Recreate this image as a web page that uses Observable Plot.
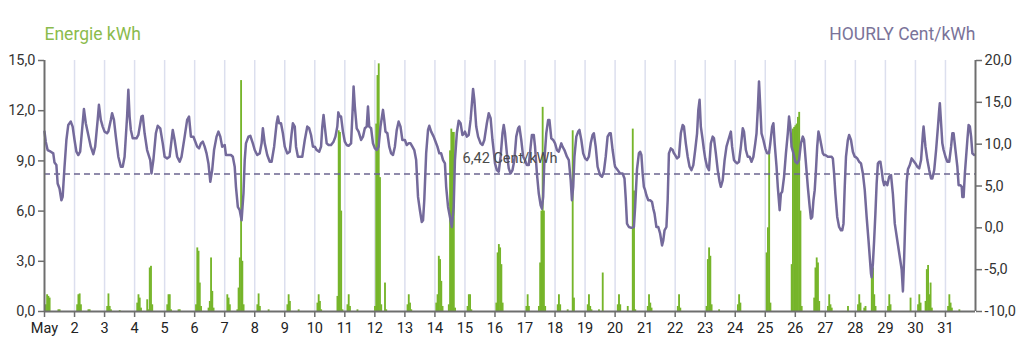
<!DOCTYPE html>
<html><head><meta charset="utf-8">
<script src="https://cdn.jsdelivr.net/npm/d3@7"></script>
<script src="https://cdn.jsdelivr.net/npm/@observablehq/plot@0.6"></script>
<style>body{margin:0;background:#fff;font-family:Roboto,sans-serif}</style>
</head><body><div id="chart"></div>
<script>
const dayLabels = ["May","2","3","4","5","6","7","8","9","10","11","12","13","14","15","16","17","18","19","20","21","22","23","24","25","26","27","28","29","30","31"];
const energyTicks = [0, 3, 6, 9, 12, 15];
const priceTicks = [-10, -5, 0, 5, 10, 15, 20];
const averagePrice = 6.42;
const energyTitle = "Energie kWh";
const priceTitle = "HOURLY Cent/kWh";

// [day, hour, Cent/kWh]
const pricePoints = [
[1,0,11.5],[1,1,10.3],[1,2.5,9.3],[1,5,9.1],[1,7,8.9],[1,8,7.8],[1,9.5,7.5],[1,10.5,5.3],[1,12,4.7],[1,13.5,3.3],[1,14.5,3.7],[1,16,7.3],[1,17.5,10.5],[1,19,12.3],[1,21,12.7],[1,22.5,12.1],
[2,0,10.5],[2,1.5,9.1],[2,3,8.7],[2,4.5,9.1],[2,6.5,12.5],[2,7.5,14.2],[2,9,12.5],[2,11,11.1],[2,13,9.7],[2,15,8.8],[2,16.5,9.7],[2,18.5,12.9],[2,19.5,14.7],[2,21,12.9],[2,22.5,12.1],
[3,0,11.5],[3,2,11.3],[3,3,11.5],[3,5,12.9],[3,6,13.7],[3,7.5,12.9],[3,9,10.9],[3,11,8.5],[3,13,7.3],[3,14.5,7.3],[3,16,8.5],[3,18,13.3],[3,19,16.5],[3,20,13.3],[3,21,11.7],[3,22.5,10.7],
[4,0,10.7],[4,1.5,10.7],[4,3,11.1],[4,5.5,13.3],[4,6.5,13.4],[4,8,11.3],[4,10,9.3],[4,12.5,8.1],[4,13.5,6.5],[4,15,8.1],[4,17,11.3],[4,18.5,12.2],[4,20.5,11.9],[4,22.5,10.1],
[5,0,8.5],[5,2,8.3],[5,4,8.5],[5,6.5,11.7],[5,8,10.5],[5,10,8.5],[5,12,7.9],[5,13.5,8.5],[5,16,10.9],[5,18,12.9],[5,19.5,13.3],[5,21,10.9],[5,23,10.9],
[6,0,10.5],[6,2,9.7],[6,3.5,9.5],[6,5,10.1],[6,6.5,10.3],[6,8,9.7],[6,9.5,8.9],[6,11,7.7],[6,12.5,5.5],[6,14,6.9],[6,15.5,9.3],[6,17.5,10.9],[6,19,11.5],[6,20.5,10.9],[6,22,9.7],
[7,0,9.9],[7,1,8.7],[7,3,8.7],[7,5,8.7],[7,6.5,8.5],[7,8,7.3],[7,9,4.9],[7,10.5,2.5],[7,12,2.1],[7,13.5,0.9],[7,15,4.1],[7,16,8.1],[7,17,10.1],[7,19,10.9],[7,20.5,11.0],[7,22.5,10.1],
[8,0,9.3],[8,2,8.7],[8,4,8.9],[8,5.5,10.1],[8,6.5,11.9],[8,8,10.1],[8,10,8.7],[8,12,7.9],[8,13.5,7.9],[8,15.5,9.7],[8,17.5,12.5],[8,18.5,13.3],[8,19.5,12.5],[8,21,12.5],[8,22.5,11.3],
[9,0,9.7],[9,2,8.9],[9,4,9.1],[9,5.5,11.3],[9,6.5,12.5],[9,8,12.1],[9,9,9.7],[9,10.5,8.5],[9,12.5,8.5],[9,14,8.5],[9,16,10.5],[9,18,12.1],[9,19.5,11.9],[9,21,11.1],[9,22.5,9.7],
[10,0,9.7],[10,1.5,9.3],[10,3.5,9.1],[10,5,9.7],[10,6,12.1],[10,7,13.5],[10,8,12.1],[10,9.5,10.1],[10,11,9.9],[10,13,9.9],[10,15,10.3],[10,16.5,10.9],[10,18,12.1],[10,18.8,13.8],[10,20,13.3],[10,21,13.3],[10,22.5,11.5],
[11,0,10.3],[11,1.5,9.9],[11,3,9.8],[11,5,10.1],[11,6.5,14.9],[11,7,16.9],[11,8,14.5],[11,9.5,11.9],[11,11,11.5],[11,13,10.5],[11,14.5,10.9],[11,16,11.9],[11,17.5,12.1],[11,18.5,14.5],[11,19.5,12.1],[11,21,11.9],[11,22.5,10.1],
[12,0,9.5],[12,1.5,9.3],[12,3,9.7],[12,4.5,12.1],[12,5.5,13.1],[12,6.5,14.1],[12,7.5,12.9],[12,8.5,11.5],[12,10,11.3],[12,11.5,9.7],[12,13,8.9],[12,14.5,8.7],[12,16,9.7],[12,17.5,11.7],[12,19,12.7],[12,20.5,12.1],[12,22,10.5],
[13,0,10.5],[13,1.5,9.9],[13,3,10.1],[13,4.5,10.1],[13,6,9.7],[13,7.5,9.3],[13,9,8.1],[13,10.5,3.7],[13,12,2.1],[13,13.5,0.7],[13,14.5,0.9],[13,15.5,3.3],[13,17,8.9],[13,18.5,11.7],[13,19.5,12.2],[13,21,11.5],[13,23,10.9],
[14,0,10.5],[14,2,9.7],[14,3.5,8.9],[14,5,8.9],[14,6.5,8.1],[14,8,7.7],[14,9,4.9],[14,10.5,2.5],[14,12.5,0.9],[14,13.5,0.1],[14,15,2.5],[14,16,8.1],[14,17.5,11.3],[14,19,12.8],[14,20.5,12.5],[14,22,11.1],[14,23.5,11.3],
[15,0,11.5],[15,1.5,10.9],[15,3,11.1],[15,4.5,12.9],[15,6,15.7],[15,6.5,16.6],[15,7.5,15.3],[15,9,12.1],[15,10.5,10.9],[15,12.5,10.1],[15,14,9.9],[15,15.5,10.5],[15,17.5,12.5],[15,19,13.7],[15,20.5,13.1],[15,22,10.5],[15,23.5,8.5],
[16,0,7.7],[16,1.5,6.9],[16,3,6.7],[16,4.5,8.5],[16,6,11.3],[16,7,12.3],[16,8,11.3],[16,9.5,8.9],[16,11,7.1],[16,12.5,6.5],[16,14,6.9],[16,15.5,8.1],[16,17,10.9],[16,18.5,11.9],[16,19.5,12.1],[16,21,10.5],[16,22.5,8.5],
[17,0,8.1],[17,1.5,7.5],[17,3,7.5],[17,4.5,9.7],[17,5.5,11.1],[17,7,11.1],[17,8,9.7],[17,9.5,6.5],[17,11,4.1],[17,12.5,2.7],[17,13.5,2.3],[17,14.5,3.7],[17,15.5,8.1],[17,17,11.3],[17,18.5,12.9],[17,19.5,12.9],[17,21,10.7],[17,22.5,10.5],
[18,0,10.1],[18,1.5,9.3],[18,3,9.1],[18,5,10.1],[18,6,9.7],[18,7.5,9.3],[18,9.5,8.5],[18,11,8.1],[18,12.5,5.7],[18,13.5,3.3],[18,14.5,4.9],[18,15.5,8.5],[18,17,10.9],[18,18.5,11.5],[18,19.5,11.7],[18,21,10.5],[18,22.5,8.9],
[19,0,8.3],[19,1.5,8.1],[19,3,8.5],[19,4.5,10.1],[19,6,11.1],[19,7,11.3],[19,8.5,9.7],[19,10,7.3],[19,12,6.3],[19,13.5,6.1],[19,15,6.7],[19,16.5,8.5],[19,18,10.9],[19,19.5,11.3],[19,20.5,11.3],[19,22,9.3],[19,23.5,7.7],
[20,0,7.3],[20,2,6.9],[20,4,6.5],[20,6,6.5],[20,7.5,5.9],[20,8.5,3.5],[20,9.5,0.5],[20,11,0.1],[20,13,0.0],[20,15,0.1],[20,16,2.5],[20,17.5,7.0],[20,19,8.9],[20,20,9.1],[20,21,8.7],[20,22,6.5],[20,23,4.9],
[21,0,4.5],[21,1,3.9],[21,2.5,3.3],[21,4,3.3],[21,5.5,3.1],[21,6.5,2.3],[21,7.5,1.7],[21,9,0.1],[21,10.5,0.1],[21,12,-0.7],[21,13.5,-2.1],[21,14.5,-1.5],[21,15.5,-0.3],[21,17,0.1],[21,18,3.3],[21,19,8.9],[21,20.5,9.5],[21,22,9.3],[21,23,8.9],
[22,0,8.7],[22,1.5,8.3],[22,3,8.5],[22,4.5,11.3],[22,6,12.3],[22,7,12.1],[22,8.5,10.1],[22,10,8.5],[22,11.5,7.3],[22,13,6.9],[22,14.5,7.5],[22,16,9.3],[22,17.5,11.3],[22,18.5,14.1],[22,19.5,15.3],[22,20.5,12.1],[22,22,10.5],[22,23,9.3],
[23,0,8.3],[23,1.5,7.3],[23,3,6.9],[23,4.5,10.1],[23,6,10.9],[23,7,10.7],[23,8.5,8.9],[23,10,6.9],[23,11.5,5.5],[23,12.5,4.9],[23,14,5.7],[23,15.5,8.1],[23,17,9.7],[23,18.5,10.5],[23,20.5,11.5],[23,21.5,9.7],[23,23,8.1],
[24,0,7.9],[24,1.5,7.7],[24,3,7.9],[24,4.5,9.7],[24,6,11.9],[24,7,11.5],[24,8.5,9.3],[24,10,8.5],[24,11.5,8.5],[24,13,7.9],[24,14.5,8.5],[24,16,10.1],[24,17,11.3],[24,18,14.1],[24,19,17.5],[24,20,14.5],[24,21,11.3],[24,22.5,10.5],
[25,0,9.5],[25,1.5,8.9],[25,3,8.9],[25,4,10.1],[25,5.5,12.1],[25,6.5,12.5],[25,7.5,10.1],[25,9,7.3],[25,10,4.9],[25,11.5,2.1],[25,12.5,4.1],[25,13.5,4.3],[25,15,6.1],[25,16.5,8.9],[25,18,11.3],[25,19,13.3],[25,20,12.1],[25,21,9.7],[25,22.5,8.9],
[26,0,7.9],[26,1.5,7.7],[26,3,8.1],[26,4.5,10.1],[26,6,10.9],[26,7,10.5],[26,8.5,7.7],[26,10,4.9],[26,11.5,2.5],[26,12.5,1.1],[26,13.5,1.3],[26,14.5,3.3],[26,15.5,4.5],[26,16.5,6.9],[26,17.5,9.7],[26,18.5,11.5],[26,19.5,10.9],[26,20.5,10.1],[26,22,8.9],[26,23,8.7],
[27,0,8.7],[27,2,8.5],[27,3.5,8.5],[27,5,8.5],[27,6,8.3],[27,7,6.5],[27,8,4.1],[27,9.5,1.3],[27,11,0.1],[27,12.5,-0.3],[27,13.5,-0.3],[27,14.5,0.5],[27,15.5,4.9],[27,16.5,8.5],[27,18,10.5],[27,19,11.1],[27,20.5,10.5],[27,22,9.1],[27,23.5,8.5],
[28,0,8.5],[28,1.5,8.3],[28,3,7.9],[28,4.5,7.7],[28,6,6.5],[28,7.5,4.5],[28,9,1.3],[28,10.5,-1.5],[28,11.5,-3.5],[28,12.5,-5.5],[28,13,-5.9],[28,14,-4.3],[28,15,-1.5],[28,16,1.7],[28,17,5.3],[28,18,7.7],[28,19,7.9],[28,20,7.9],[28,21,6.9],[28,22,5.7],[28,23,5.1],
[29,0,5.5],[29,1.5,5.1],[29,3,6.1],[29,4.5,6.3],[29,6,4.0],[29,7.5,0.5],[29,9,-1.0],[29,10.5,-2.5],[29,12,-4.0],[29,13,-5.0],[29,14,-7.6],[29,15,-3.5],[29,16,1.5],[29,17,5.5],[29,18,7.0],[29,19.5,7.5],[29,21,8.3],[29,22.5,8.0],
[30,0,7.7],[30,1.5,7.3],[30,3,7.1],[30,4.5,8.1],[30,6,11.3],[30,6.5,12.1],[30,8,9.7],[30,9.5,8.1],[30,11,6.9],[30,12.5,5.9],[30,13.5,5.9],[30,15,6.9],[30,16.5,9.3],[30,18,12.1],[30,19,14.1],[30,19.5,14.9],[30,20.5,12.5],[30,21.5,10.1],[30,22.5,9.3],
[31,0,8.5],[31,1.5,7.9],[31,3,7.9],[31,4.5,9.7],[31,5.5,11.3],[31,6.5,11.3],[31,8,9.3],[31,9.5,7.3],[31,10.5,5.1],[31,12,5.1],[31,13,4.9],[31,13.5,3.7],[31,14.5,3.7],[31,15.5,6.5],[31,16.5,8.5],[31,17.5,10.5],[31,18.5,12.3],[31,19.5,12.1],[31,20.5,10.9],[31,21.5,8.9],[31,23,8.7]
];

// [day, hour, kWh]
const energyPoints = [
[1,1,0.4],[1,2,1.0],[1,3,0.9],[1,4,0.8],[1,11,0.1],[1,12,0.1],
[2,2,0.4],[2,3,1.0],[2,4,1.05],[2,5,0.4],[2,11,0.1],[2,12,0.1],
[3,2,0.3],[3,3,1.05],[3,4,0.3],[3,5,0.1],[3,12,0.05],
[4,2,0.5],[4,3,1.0],[4,4,0.8],[4,5,0.2],[4,10,0.7],[4,11,0.1],[4,12,2.6],[4,13,2.7],[4,14,0.4],
[5,2,0.4],[5,3,1.0],[5,4,1.0],[5,5,0.1],[5,11,0.1],[5,12,0.1],
[6,1,0.4],[6,2,3.8],[6,3,3.6],[6,4,1.7],[6,5,0.3],[6,11,0.2],[6,12,0.6],[6,13,3.2],[6,14,1.2],[6,15,0.2],
[7,2,1.0],[7,3,0.8],[7,4,0.4],[7,10,0.1],[7,11,1.4],[7,12,3.2],[7,13,13.8],[7,14,3.0],[7,15,0.4],
[8,2,0.4],[8,3,1.05],[8,4,0.3],[8,11,0.1],
[9,2,0.4],[9,3,1.0],[9,4,0.6],[9,11,0.1],
[10,2,0.5],[10,3,1.0],[10,4,0.6],[10,5,0.1],[10,18,0.9],[10,19,10.8],[10,20,10.7],[10,21,6.0],[10,22,0.1],
[11,2,0.4],[11,3,1.0],[11,4,0.3],[11,10,0.1],
[12,0,0.3],[12,1,11.2],[12,2,14.1],[12,3,14.8],[12,4,8.0],[12,5,0.4],[12,8,1.7],[12,9,0.1],
[13,2,0.4],[13,3,1.0],[13,4,0.5],[13,5,0.1],
[14,1,0.5],[14,2,1.0],[14,3,3.3],[14,4,3.1],[14,5,1.8],[14,6,0.3],[14,11,0.4],[14,12,9.6],[14,13,10.9],[14,14,10.7],[14,15,10.7],[14,16,0.2],
[15,2,0.3],[15,3,1.0],[15,4,1.0],[15,5,0.1],
[16,1,0.5],[16,2,3.5],[16,3,4.0],[16,4,3.8],[16,5,2.8],[16,6,0.5],
[17,1,0.3],[17,2,1.0],[17,3,0.3],[17,11,0.3],[17,12,2.9],[17,13,6.0],[17,14,12.2],[17,15,6.0],[17,16,0.3],
[18,2,0.4],[18,3,1.0],[18,4,0.4],[18,10,0.1],[18,14,10.8],[18,15,0.8],
[19,2,0.4],[19,3,1.0],[19,4,0.3],[19,5,0.1],[19,11,0.1],[19,14,2.3],
[20,2,0.4],[20,3,1.0],[20,4,0.4],[20,10,0.3],[20,14,10.9],[20,15,7.2],[20,16,0.1],
[21,2,0.3],[21,3,1.0],[21,4,0.5],[21,5,0.2],
[22,2,0.3],[22,3,1.0],[22,4,0.2],
[23,1,0.3],[23,2,3.1],[23,3,3.8],[23,4,3.3],[23,5,0.4],[23,11,0.1],
[24,2,0.4],[24,3,1.0],[24,4,0.5],
[25,1,3.5],[25,2,5.0],[25,3,9.5],[25,4,0.5],[25,21,2.8],[25,22,10.9],[25,23,11.0],
[26,0,11.1],[26,1,11.2],[26,2,11.6],[26,3,11.9],[26,4,6.0],[26,5,0.3],[26,15,0.8],[26,16,2.6],[26,17,3.2],[26,18,2.9],[26,19,0.6],
[27,2,0.3],[27,3,1.0],[27,4,0.4],[27,5,0.2],[27,18,0.3],
[28,2,0.4],[28,3,1.0],[28,4,0.5],[28,7,0.2],[28,8,0.3],[28,13,2.2],[28,14,2.6],[28,15,1.0],[28,16,0.3],
[29,2,0.3],[29,3,1.0],[29,4,0.4],[29,20,0.8],
[30,2,0.4],[30,3,1.0],[30,4,0.5],[30,8,0.6],[30,9,2.5],[30,10,2.75],[30,11,1.0],[30,12,1.7],[30,13,0.2],
[31,2,0.3],[31,3,1.0],[31,4,0.5],[31,5,0.2],[31,11,0.1]
];

// price axis (-10..20) mapped onto the energy axis (0..15)
const priceToY = p => (p + 10) / 2;
const yToPrice = y => y * 2 - 10;
const fmt = v => v.toFixed(1).replace(".", ",");

const priceRows = pricePoints.map(([d, h, c]) => ({t: d + h / 24, cent: c}));
const energyRows = energyPoints.map(([d, h, k]) => ({t1: d + h / 24, t2: d + (h + 1) / 24, kwh: k}));

const green = "#76b52a";
const purple = "#746a9b";
const axisGray = "#6e6e6e";

const chart = Plot.plot({
  width: 1024,
  height: 363,
  marginLeft: 44,
  marginRight: 49,
  marginTop: 60,
  marginBottom: 52,
  style: {fontFamily: "Roboto, sans-serif", fontSize: "14.5px", background: "#fff", overflow: "visible"},
  x: {type: "linear", domain: [1, 32], axis: null},
  y: {domain: [0, 15], axis: null},
  marks: [
    Plot.ruleX(d3.range(2, 32), {stroke: "#dcdfee", strokeWidth: 1.5}),
    Plot.rectY(energyRows, {x1: "t1", x2: "t2", y: "kwh", fill: green, insetLeft: -0.3, insetRight: -0.3}),
    Plot.ruleY([priceToY(averagePrice)], {stroke: "#6c6590", strokeWidth: 1.5, strokeDasharray: "6,4"}),
    Plot.line(priceRows, {x: "t", y: d => priceToY(d.cent), stroke: purple, strokeWidth: 2.5, strokeLinejoin: "round"}),
    Plot.text([averagePrice], {x: 16.5, y: priceToY(averagePrice), dy: -16, text: d => d.toFixed(2).replace(".", ",") + " Cent/kWh", fill: "#4a4a4a", fontSize: 14.5}),
    Plot.ruleX([1], {stroke: axisGray, strokeWidth: 2}),
    Plot.ruleX([32], {stroke: axisGray, strokeWidth: 2}),
    Plot.ruleY([0], {stroke: axisGray, strokeWidth: 2}),
    Plot.axisY(energyTicks, {anchor: "left", tickSize: 6, tickPadding: 3, tickFormat: fmt, stroke: axisGray, fill: "#333", strokeWidth: 1.5, label: null}),
    Plot.axisY(priceTicks.map(priceToY), {anchor: "right", tickSize: 6, tickPadding: 3, tickFormat: d => fmt(yToPrice(d)), stroke: axisGray, fill: "#333", strokeWidth: 1.5, label: null}),
    Plot.axisX(d3.range(1, 32), {anchor: "bottom", tickSize: 6, tickPadding: 5, tickFormat: d => dayLabels[d - 1], stroke: axisGray, fill: "#222", strokeWidth: 1.5, label: null}),
    Plot.text([energyTitle], {frameAnchor: "top-left", dy: -33, text: d => d, fill: "#8bbb4c", fontSize: 17.5, textAnchor: "start"}),
    Plot.text([priceTitle], {frameAnchor: "top-right", dy: -33, text: d => d, fill: "#7a7399", fontSize: 17.5, textAnchor: "end"})
  ]
});
document.getElementById("chart").append(chart);
</script>
</body></html>
